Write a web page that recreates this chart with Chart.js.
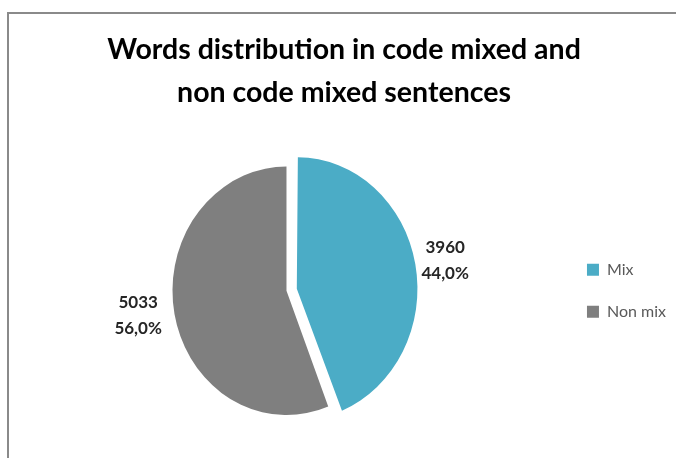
<!DOCTYPE html>
<html>
<head>
<meta charset="utf-8">
<script src="https://cdn.jsdelivr.net/npm/chart.js@4/dist/chart.umd.min.js"></script>
<style>
  html, body { margin: 0; padding: 0; background: #fff; }
  #wrap { width: 676px; height: 458px; position: relative; }
</style>
</head>
<body>
<div id="wrap"><canvas id="c" width="676" height="458"></canvas></div>
<script>
// Word counts per sentence type
const categories = ['Mix', 'Non mix'];
const wordCounts = [3960, 5033];
const sliceColors = ['#4bacc6', '#7f7f7f'];
const titleLines = ['Words distribution in code mixed and', 'non code mixed sentences'];

// Pie is drawn slightly taller than wide
const Y_STRETCH = 1.09;
// small vertical nudges for the value labels
const LABEL_NUDGE_Y = [3, -5];

const total = wordCounts.reduce((a, b) => a + b, 0);
const fmtPct = v => (v / total * 100).toFixed(1).replace('.', ',') + '%';

const frame = {
  id: 'frame',
  beforeDraw(chart) {
    const ctx = chart.ctx;
    ctx.save();
    ctx.fillStyle = '#ffffff';
    ctx.fillRect(0, 0, chart.width, chart.height);
    ctx.strokeStyle = '#8a8a8a';
    ctx.lineWidth = 2;
    ctx.beginPath();
    ctx.moveTo(8, chart.height + 5);
    ctx.lineTo(8, 13);
    ctx.lineTo(chart.width + 5, 13);
    ctx.stroke();
    ctx.restore();
  }
};

const stretchAndLabel = {
  id: 'stretchAndLabel',
  beforeDatasetsDraw(chart) {
    const arc = chart.getDatasetMeta(0).data[0];
    const ctx = chart.ctx;
    ctx.save();
    ctx.translate(arc.x, arc.y);
    ctx.scale(1, Y_STRETCH);
    ctx.translate(-arc.x, -arc.y);
  },
  afterDatasetsDraw(chart) {
    const ctx = chart.ctx;
    ctx.restore();
    const ds = chart.data.datasets[0];
    const meta = chart.getDatasetMeta(0);
    ctx.save();
    ctx.font = 'bold 17px Lato';
    ctx.fillStyle = '#262626';
    ctx.textAlign = 'center';
    ctx.textBaseline = 'middle';
    meta.data.forEach((el, i) => {
      const p = el.getProps(['x', 'y', 'startAngle', 'endAngle', 'outerRadius'], true);
      const mid = (p.startAngle + p.endAngle) / 2;
      const off = (ds.offset[i] || 0) / 4;
      const dist = p.outerRadius + off + 37;
      const px = p.x + Math.cos(mid) * dist;
      const py = p.y + Math.sin(mid) * dist * Y_STRETCH - 1 + LABEL_NUDGE_Y[i];
      const v = ds.data[i];
      ctx.fillText(String(v), px, py - 13);
      ctx.fillText(fmtPct(v), px, py + 13);
    });
    ctx.restore();
  }
};

new Chart(document.getElementById('c'), {
  type: 'pie',
  data: {
    labels: categories,
    datasets: [{
      data: wordCounts,
      backgroundColor: sliceColors,
      borderWidth: 0,
      offset: [42, 0]
    }]
  },
  options: {
    responsive: false,
    animation: false,
    radius: 114,
    layout: { padding: { left: 12, right: 0, top: 0, bottom: 1 } },
    plugins: {
      title: {
        display: true,
        text: titleLines,
        color: '#000000',
        font: { family: 'Lato', size: 28.5, weight: 'bold', lineHeight: 1.52 },
        padding: { top: 28, bottom: 10 }
      },
      legend: {
        position: 'right',
        fullSize: false,
        labels: {
          color: '#595959',
          font: { family: 'Lato', size: 16 },
          boxWidth: 12,
          boxHeight: 12,
          padding: 26
        }
      },
      tooltip: { enabled: false }
    }
  },
  plugins: [frame, stretchAndLabel]
});
</script>
</body>
</html>
